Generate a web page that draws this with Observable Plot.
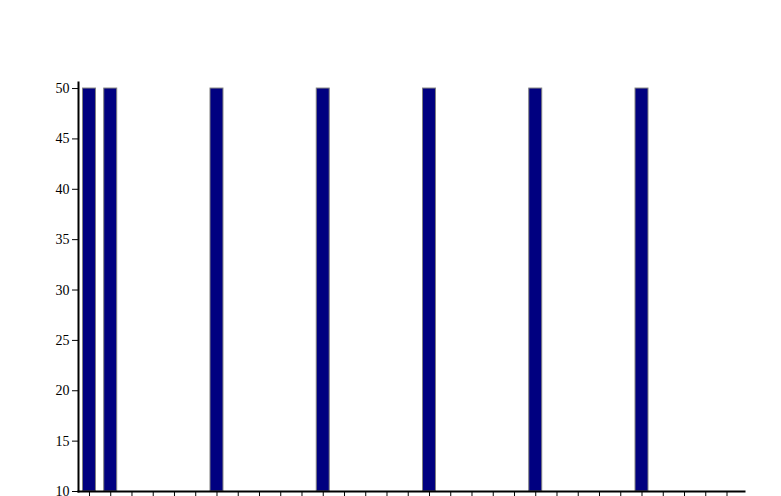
<!DOCTYPE html>
<html>
<head>
<meta charset="utf-8">
<script src="https://cdn.jsdelivr.net/npm/d3@7"></script>
<script src="https://cdn.jsdelivr.net/npm/@observablehq/plot@0.6"></script>
<style>
  html, body { margin: 0; padding: 0; background: #fff; overflow: hidden; }
  #chart svg { display: block; }
</style>
</head>
<body>
<div id="chart"></div>
<script>
const categories = ["1","2","3","4","5","6","7","8","9","10","11","12","13","14","15","16","17","18","19","20","21","22","23","24","25","26","27","28","29","30","31"];
const values = [50,50,10,10,10,10,50,10,10,10,10,50,10,10,10,10,50,10,10,10,10,50,10,10,10,10,50,10,10,10,10];
const yTicks = [10,15,20,25,30,35,40,45,50];

const data = categories.map((c, i) => ({cat: c, value: values[i]}));

const chart = Plot.plot({
  width: 781,
  height: 496,
  marginTop: 82,
  marginBottom: 5,
  marginLeft: 78,
  marginRight: 37,
  style: {fontFamily: "'Liberation Serif', 'DejaVu Serif', serif", fontSize: "14px", background: "#fff", color: "#000"},
  x: {type: "band", domain: categories, paddingInner: 0.39, paddingOuter: 0.365, align: 0.29, round: false},
  y: {domain: [10, 50.6]},
  marks: [
    Plot.barY(data, {x: "cat", y1: 10, y2: "value", fill: "#000080", stroke: "#7f7f7f", strokeWidth: 1}),
    Plot.axisY({ticks: yTicks, tickSize: 6, tickPadding: 3, label: null, fontSize: 14, stroke: "#000"}),
    Plot.axisX({tickSize: 6, tickFormat: () => "", label: null, stroke: "#000"}),
    Plot.frame({anchor: "left", stroke: "#000", strokeWidth: 2}),
    Plot.frame({anchor: "bottom", stroke: "#000", strokeWidth: 2})
  ]
});
document.getElementById("chart").appendChild(chart);
</script>
</body>
</html>
